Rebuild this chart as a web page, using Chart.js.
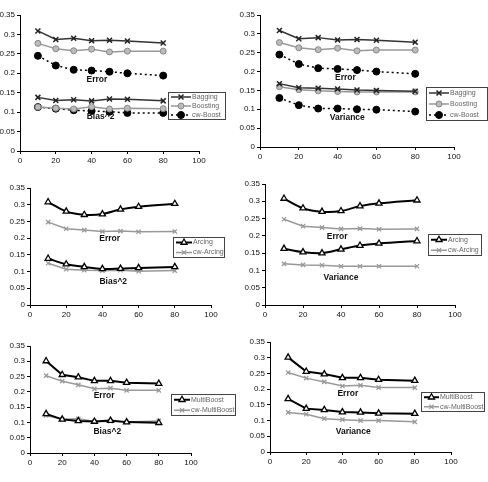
<!DOCTYPE html>
<html>
<head>
<meta charset="utf-8">
<script src="https://cdn.jsdelivr.net/npm/chart.js@4.4.1/dist/chart.umd.min.js"></script>
<style>
  body { margin: 0; background: #fff; }
  #wrap { position: relative; width: 488px; height: 482px; }
  canvas { position: absolute; left: 0; top: 0; }
</style>
</head>
<body>
<div id="wrap">
  <canvas id="c1" width="488" height="482"></canvas>
  <canvas id="c2" width="488" height="482"></canvas>
  <canvas id="c3" width="488" height="482"></canvas>
  <canvas id="c4" width="488" height="482"></canvas>
  <canvas id="c5" width="488" height="482"></canvas>
  <canvas id="c6" width="488" height="482"></canvas>
</div>
<script>
// ensemble sizes on the x axis
const sizes = [10, 20, 30, 40, 50, 60, 80];
const xTicks = [0, 20, 40, 60, 80, 100];
const yTicks = [0, 0.05, 0.1, 0.15, 0.2, 0.25, 0.3, 0.35];

// error
const baggingError = [0.309, 0.287, 0.290, 0.284, 0.285, 0.283, 0.278];
const boostingError = [0.277, 0.263, 0.258, 0.262, 0.255, 0.257, 0.257];
const cwBoostError = [0.245, 0.220, 0.209, 0.207, 0.204, 0.200, 0.194];
const arcingError = [0.308, 0.280, 0.270, 0.272, 0.286, 0.294, 0.303];
const cwArcingError = [0.248, 0.228, 0.224, 0.220, 0.221, 0.219, 0.220];
const multiBoostError = [0.301, 0.256, 0.248, 0.236, 0.236, 0.230, 0.227];
const cwMultiBoostError = [0.253, 0.235, 0.223, 0.210, 0.212, 0.205, 0.205];

// bias^2
const baggingBias = [0.138, 0.130, 0.132, 0.129, 0.134, 0.133, 0.129];
const boostingBias = [0.113, 0.110, 0.108, 0.114, 0.108, 0.110, 0.109];
const cwBoostBias = [0.113, 0.109, 0.105, 0.103, 0.101, 0.098, 0.098];
const arcingBias = [0.139, 0.122, 0.114, 0.108, 0.109, 0.111, 0.114];
const cwArcingBias = [0.125, 0.107, 0.104, 0.103, 0.104, 0.101, 0.103];
const multiBoostBias = [0.128, 0.110, 0.105, 0.103, 0.106, 0.101, 0.099];
const cwMultiBoostBias = [0.123, 0.110, 0.112, 0.103, 0.104, 0.101, 0.105];

// variance
const baggingVar = [0.168, 0.157, 0.156, 0.154, 0.151, 0.150, 0.148];
const boostingVar = [0.160, 0.152, 0.149, 0.147, 0.146, 0.146, 0.146];
const cwBoostVar = [0.130, 0.111, 0.102, 0.102, 0.100, 0.099, 0.094];
const arcingVar = [0.163, 0.153, 0.150, 0.161, 0.172, 0.178, 0.185];
const cwArcingVar = [0.119, 0.116, 0.115, 0.112, 0.112, 0.112, 0.112];
const multiBoostVar = [0.169, 0.138, 0.134, 0.127, 0.126, 0.123, 0.122];
const cwMultiBoostVar = [0.126, 0.120, 0.106, 0.103, 0.100, 0.100, 0.096];

const FONT = "Arial, 'Liberation Sans', sans-serif";

const styles = {
  "Bagging": { borderColor: "#333", borderWidth: 1.5, pointStyle: "crossRot", pointRadius: 3.5,
    pointBorderColor: "#222", pointBorderWidth: 1.5, pointBackgroundColor: "#222" },
  "Boosting": { borderColor: "#999", borderWidth: 1.5, pointStyle: "circle", pointRadius: 3,
    pointBorderColor: "#888", pointBorderWidth: 1, pointBackgroundColor: "#bbb" },
  "cw-Boost": { borderColor: "#000", borderWidth: 1.5, borderDash: [2, 3], pointStyle: "circle",
    pointRadius: 3.5, pointBorderColor: "#000", pointBorderWidth: 1, pointBackgroundColor: "#000" },
  "Arcing": { borderColor: "#000", borderWidth: 2, pointStyle: "triangle", pointRadius: 3.5, tension: 0.35,
    pointBorderColor: "#000", pointBorderWidth: 1.3, pointBackgroundColor: "#fff" },
  "cw-Arcing": { borderColor: "#999", borderWidth: 1.5, pointStyle: "crossRot", pointRadius: 3,
    pointBorderColor: "#999", pointBorderWidth: 1.3, pointBackgroundColor: "#999" },
  "MultiBoost": { borderColor: "#000", borderWidth: 2, pointStyle: "triangle", pointRadius: 3.5,
    pointBorderColor: "#000", pointBorderWidth: 1.3, pointBackgroundColor: "#fff" },
  "cw-MultiBoost": { borderColor: "#999", borderWidth: 1.5, pointStyle: "crossRot", pointRadius: 3,
    pointBorderColor: "#999", pointBorderWidth: 1.3, pointBackgroundColor: "#999" },
};

function series(name, values, inLegend) {
  return Object.assign({
    label: name,
    data: values.map((v, i) => ({ x: sizes[i], y: v })),
    fill: false,
    inLegend: inLegend,
  }, styles[name]);
}

// text labels placed in data coordinates, plus the boxed legend
const panelDecor = {
  id: "panelDecor",
  afterDatasetsDraw(chart, args, opts) {
    const ctx = chart.ctx;
    const xs = chart.scales.x, ys = chart.scales.y;
    ctx.save();
    ctx.fillStyle = "#111";
    ctx.font = "bold 8.5px " + FONT;
    ctx.textAlign = "center";
    ctx.textBaseline = "middle";
    opts.texts.forEach((t) => {
      ctx.fillText(t.text, xs.getPixelForValue(t.x), ys.getPixelForValue(t.y));
    });

    const lg = opts.legend;
    const items = chart.data.datasets.filter((d) => d.inLegend);
    ctx.fillStyle = "#fff";
    ctx.fillRect(lg.x, lg.y, lg.w, lg.h);
    ctx.strokeStyle = "#444";
    ctx.lineWidth = 1;
    ctx.strokeRect(lg.x + 0.5, lg.y + 0.5, lg.w, lg.h);
    const rowH = lg.h / items.length;
    ctx.font = "7px " + FONT;
    ctx.textAlign = "left";
    items.forEach((d, i) => {
      const cy = lg.y + rowH * (i + 0.5) + 0.5;
      const x0 = lg.x + 3, x1 = lg.x + 3 + lg.line;
      ctx.beginPath();
      ctx.setLineDash(d.borderDash || []);
      ctx.strokeStyle = d.borderColor;
      ctx.lineWidth = d.borderWidth;
      ctx.moveTo(x0, cy);
      ctx.lineTo(x1, cy);
      ctx.stroke();
      ctx.setLineDash([]);
      ctx.fillStyle = d.pointBackgroundColor;
      ctx.strokeStyle = d.pointBorderColor;
      ctx.lineWidth = d.pointBorderWidth;
      Chart.helpers.drawPoint(ctx, {
        pointStyle: d.pointStyle, radius: d.pointRadius, rotation: 0, borderWidth: d.pointBorderWidth,
      }, (x0 + x1) / 2, cy);
      ctx.fillStyle = "#666";
      ctx.fillText(d.label, x1 + 1, cy);
    });
    ctx.restore();
  },
};

function makePanel(id, box, datasets, texts, legend) {
  const YW = 24, XH = 16;
  new Chart(document.getElementById(id), {
    type: "line",
    data: { datasets: datasets },
    options: {
      responsive: false,
      animation: false,
      layout: {
        padding: { left: box.l - YW, top: box.t, right: 488 - box.r, bottom: 482 - box.b - XH },
      },
      plugins: {
        legend: { display: false },
        tooltip: { enabled: false },
        panelDecor: { texts: texts, legend: legend },
      },
      scales: {
        x: {
          type: "linear", min: 0, max: 100,
          afterFit: (s) => { s.height = XH; },
          afterBuildTicks: (s) => { s.ticks = xTicks.map((v) => ({ value: v })); },
          grid: { display: true, drawOnChartArea: false, drawTicks: true, tickLength: 3, color: "#000" },
          border: { color: "#000", width: 1 },
          ticks: { color: "#111", font: { size: 8, family: FONT }, padding: 2, maxRotation: 0 },
        },
        y: {
          min: 0, max: 0.35,
          afterFit: (s) => { s.width = YW; },
          afterBuildTicks: (s) => { s.ticks = yTicks.map((v) => ({ value: v })); },
          grid: { display: true, drawOnChartArea: false, drawTicks: true, tickLength: 3, color: "#000" },
          border: { color: "#000", width: 1 },
          ticks: {
            color: "#111", font: { size: 8, family: FONT }, padding: 2,
            callback: (v) => String(Number(v.toFixed(2))),
          },
        },
      },
    },
    plugins: [panelDecor],
  });
}

makePanel("c1", { l: 20, r: 199, t: 15, b: 151 }, [
  series("Bagging", baggingError, true),
  series("Boosting", boostingError, true),
  series("cw-Boost", cwBoostError, true),
  series("Bagging", baggingBias, false),
  series("Boosting", boostingBias, false),
  series("cw-Boost", cwBoostBias, false),
], [{ text: "Error", x: 43, y: 0.183 }, { text: "Bias^2", x: 45, y: 0.088 }],
  { x: 168, y: 92, w: 57, h: 27, line: 20 });

makePanel("c2", { l: 260, r: 454, t: 15, b: 147 }, [
  series("Bagging", baggingError, true),
  series("Boosting", boostingError, true),
  series("cw-Boost", cwBoostError, true),
  series("Bagging", baggingVar, false),
  series("Boosting", boostingVar, false),
  series("cw-Boost", cwBoostVar, false),
], [{ text: "Error", x: 44, y: 0.183 }, { text: "Variance", x: 45, y: 0.077 }],
  { x: 426, y: 87, w: 61, h: 33, line: 20 });

makePanel("c3", { l: 30, r: 211, t: 188, b: 305 }, [
  series("Arcing", arcingError, true),
  series("cw-Arcing", cwArcingError, true),
  series("Arcing", arcingBias, false),
  series("cw-Arcing", cwArcingBias, false),
], [{ text: "Error", x: 44, y: 0.198 }, { text: "Bias^2", x: 46, y: 0.069 }],
  { x: 173, y: 237, w: 51, h: 20, line: 16 });

makePanel("c4", { l: 265, r: 455, t: 184, b: 305 }, [
  series("Arcing", arcingError, true),
  series("cw-Arcing", cwArcingError, true),
  series("Arcing", arcingVar, false),
  series("cw-Arcing", cwArcingVar, false),
], [{ text: "Error", x: 38, y: 0.197 }, { text: "Variance", x: 40, y: 0.078 }],
  { x: 428, y: 234, w: 53, h: 21, line: 16 });

makePanel("c5", { l: 30, r: 191, t: 346, b: 453 }, [
  series("MultiBoost", multiBoostError, true),
  series("cw-MultiBoost", cwMultiBoostError, true),
  series("MultiBoost", multiBoostBias, false),
  series("cw-MultiBoost", cwMultiBoostBias, false),
], [{ text: "Error", x: 46, y: 0.186 }, { text: "Bias^2", x: 48, y: 0.069 }],
  { x: 171, y: 394, w: 64, h: 21, line: 16 });

makePanel("c6", { l: 270, r: 451, t: 342, b: 452 }, [
  series("MultiBoost", multiBoostError, true),
  series("cw-MultiBoost", cwMultiBoostError, true),
  series("MultiBoost", multiBoostVar, false),
  series("cw-MultiBoost", cwMultiBoostVar, false),
], [{ text: "Error", x: 43, y: 0.185 }, { text: "Variance", x: 46, y: 0.064 }],
  { x: 421, y: 392, w: 63, h: 19, line: 15 });
</script>
</body>
</html>
